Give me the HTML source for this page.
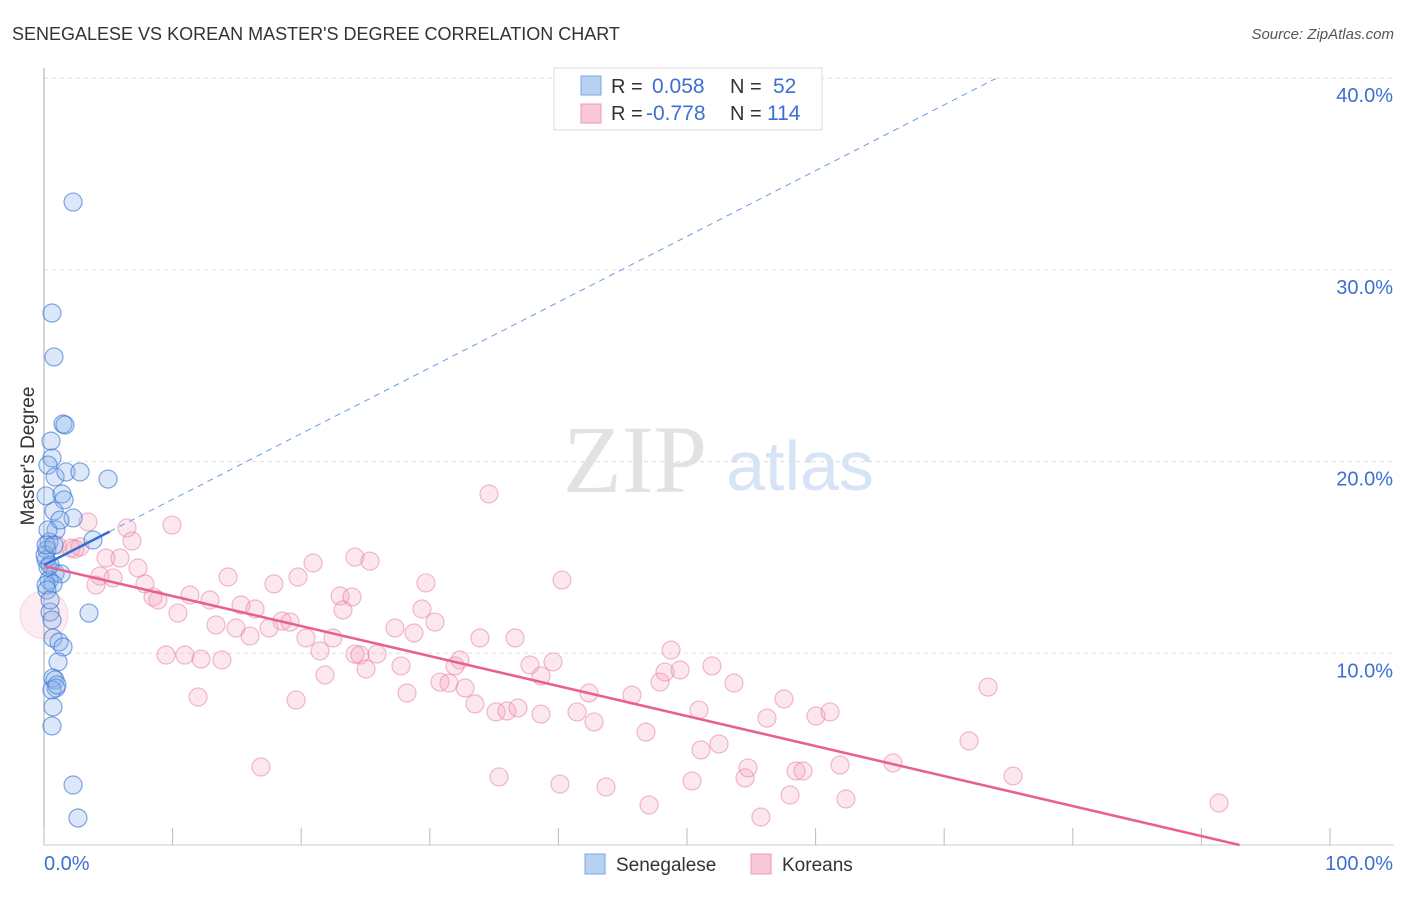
<!DOCTYPE html>
<html><head><meta charset="utf-8"><style>
body{margin:0;background:#fff;font-family:"Liberation Sans",sans-serif;}
</style></head><body>
<svg width="1406" height="892" xmlns="http://www.w3.org/2000/svg" style="font-family:'Liberation Sans',sans-serif">
<text x="12" y="40" font-size="18" fill="#333">SENEGALESE VS KOREAN MASTER'S DEGREE CORRELATION CHART</text>
<text x="1394" y="39" font-size="15" fill="#555" text-anchor="end" font-style="italic">Source: ZipAtlas.com</text>
<text x="635" y="492" font-size="96" fill="#e2e2e2" font-family="Liberation Serif" text-anchor="middle">ZIP</text>
<text x="800" y="490" font-size="70" fill="#d6e4f5" text-anchor="middle">atlas</text>
<g id="grid"></g>
<g id="axes"></g>
<g id="pts"></g>
<g id="lines"></g>
<text transform="translate(34,456) rotate(-90)" font-size="19" fill="#333" text-anchor="middle">Master's Degree</text>
<text x="44" y="870" font-size="20" fill="#3d6fd1">0.0%</text>
<text x="1393" y="870" font-size="20" fill="#3d6fd1" text-anchor="end">100.0%</text>
<g>
<rect x="554" y="68" width="268" height="62" fill="#fff" stroke="#ddd"/>
<rect x="581" y="76" width="20" height="19" fill="#b7d1f3" stroke="#7aa7e6"/>
<rect x="581" y="104" width="20" height="19" fill="#f9c8d6" stroke="#ee9ab4"/>
<text x="611" y="93" font-size="20" fill="#333">R = </text><text x="652" y="93" font-size="21" fill="#3d6fd1">0.058</text>
<text x="730" y="93" font-size="20" fill="#333">N = </text><text x="773" y="93" font-size="21" fill="#3d6fd1">52</text>
<text x="611" y="120" font-size="20" fill="#333">R = </text><text x="646" y="120" font-size="21" fill="#3d6fd1">-0.778</text>
<text x="730" y="120" font-size="20" fill="#333">N = </text><text x="767" y="120" font-size="21" fill="#3d6fd1">114</text>
</g>
<g>
<rect x="585" y="854" width="20" height="20" fill="#b7d1f3" stroke="#7aa7e6"/>
<text x="616" y="871" font-size="19" fill="#333">Senegalese</text>
<rect x="751" y="854" width="20" height="20" fill="#f9c8d6" stroke="#ee9ab4"/>
<text x="782" y="871" font-size="19" fill="#333">Koreans</text>
</g>
</svg>
<script>
const yTicks=[10,20,30,40];
const yTickLabels=["10.0%","20.0%","30.0%","40.0%"];
const xTicks=[0,10,20,30,40,50,60,70,80,90,100];
const bluePx=[[73,202],[52,313],[54,357],[63,424],[65,425],[51,441],[52,458],[48,465],[55,477],[66,472],[80,472],[108,479],[46,496],[62,494],[64,500],[54,511],[73,518],[56,530],[93,540],[49,542],[47,550],[46,560],[48,567],[55,573],[61,574],[49,580],[53,584],[46,585],[50,612],[89,613],[52,620],[53,638],[59,642],[63,647],[58,662],[53,678],[55,680],[56,688],[52,690],[53,707],[52,726],[73,785],[78,818],[45,555],[47,590],[50,600],[48,530],[57,685],[60,520],[46,545],[50,565],[54,545]];
const pinkPx=[[489,494],[172,525],[127,528],[88,522],[132,541],[57,545],[71,548],[80,547],[75,549],[355,557],[370,561],[106,558],[120,558],[138,568],[228,577],[298,577],[313,563],[100,576],[113,578],[562,580],[274,584],[426,583],[145,584],[96,585],[190,595],[153,597],[158,600],[210,600],[340,596],[352,597],[241,605],[255,609],[343,610],[422,609],[178,613],[216,625],[236,628],[269,628],[282,621],[290,622],[435,622],[395,628],[414,633],[250,636],[306,638],[333,638],[480,638],[515,638],[320,651],[166,655],[185,655],[201,659],[222,660],[355,654],[360,655],[377,654],[401,666],[460,660],[455,666],[530,665],[553,662],[671,650],[712,666],[680,670],[665,672],[366,669],[325,675],[541,676],[440,682],[449,683],[465,688],[407,693],[198,697],[296,700],[734,683],[660,682],[988,687],[589,693],[632,695],[784,699],[475,704],[496,712],[507,711],[518,708],[541,714],[577,712],[699,710],[767,718],[816,716],[830,712],[594,722],[646,732],[969,741],[719,744],[701,750],[261,767],[840,765],[893,763],[748,768],[499,777],[692,781],[745,778],[796,771],[803,771],[1013,776],[560,784],[606,787],[790,795],[846,799],[649,805],[1219,803],[761,817]];
const blueX=bluePx.map(p=>+((p[0]-44)/12.86).toFixed(2)), blueY=bluePx.map(p=>+((845-p[1])/19.17).toFixed(2));
const pinkX=pinkPx.map(p=>+((p[0]-44)/12.86).toFixed(2)), pinkY=pinkPx.map(p=>+((845-p[1])/19.17).toFixed(2));
const blueTrend=[14.6,0.343], pinkTrend=[14.55,-0.1565];
const X=v=>44+v*12.86, Y=v=>845-v*19.17;
const NS="http://www.w3.org/2000/svg";
function mk(t,a,parent){const e=document.createElementNS(NS,t);for(const k in a)e.setAttribute(k,a[k]);document.getElementById(parent).appendChild(e);return e;}
yTicks.forEach((t,i)=>{
 const l=mk('line',{x1:44,x2:1394,y1:Y(t),y2:Y(t),stroke:'#ddd','stroke-dasharray':'4,4'},'grid');
 
 
 const tx=mk('text',{x:1393,y:Y(t)+24,'font-size':20,fill:'#3d6fd1','text-anchor':'end'},'grid');
 tx.textContent=yTickLabels[i];
 
 
});
const ya=mk('line',{x1:44,x2:44,y1:68,y2:845,stroke:'#aaa'},'axes');


const xa=mk('line',{x1:44,x2:1394,y1:845,y2:845,stroke:'#ccc'},'axes');


xTicks.forEach(t=>{const l=mk('line',{x1:X(t),x2:X(t),y1:828,y2:845,stroke:'#bbb'},'axes');
 
 });
pinkX.forEach((x,i)=>{const c=mk('circle',{cx:X(x),cy:Y(pinkY[i]),r:9,fill:'rgba(244,160,188,0.25)',stroke:'rgba(230,120,155,0.5)','stroke-width':1.2},'pts');
 
 });
const big=mk('circle',{cx:X(0),cy:Y(12),r:24,fill:'rgba(244,160,188,0.2)',stroke:'rgba(230,120,155,0.25)'},'pts');


blueX.forEach((x,i)=>{const c=mk('circle',{cx:X(x),cy:Y(blueY[i]),r:9,fill:'rgba(140,180,235,0.3)',stroke:'rgba(60,120,210,0.65)','stroke-width':1.2},'pts');
 
 });
const bd=mk('line',{x1:X(5.1),y1:Y(blueTrend[0]+blueTrend[1]*5.1),x2:X(74),y2:Y(blueTrend[0]+blueTrend[1]*74),stroke:'#6a9be0','stroke-dasharray':'6,5','stroke-width':1},'lines');


const bs=mk('line',{x1:X(0),y1:Y(blueTrend[0]),x2:X(5.1),y2:Y(blueTrend[0]+blueTrend[1]*5.1),stroke:'#2f6fd6','stroke-width':2.5},'lines');


const xe=-pinkTrend[0]/pinkTrend[1];
const ps=mk('line',{x1:X(0),y1:Y(pinkTrend[0]),x2:X(xe),y2:Y(0),stroke:'#e8608e','stroke-width':2.5},'lines');


</script>
</body></html>
